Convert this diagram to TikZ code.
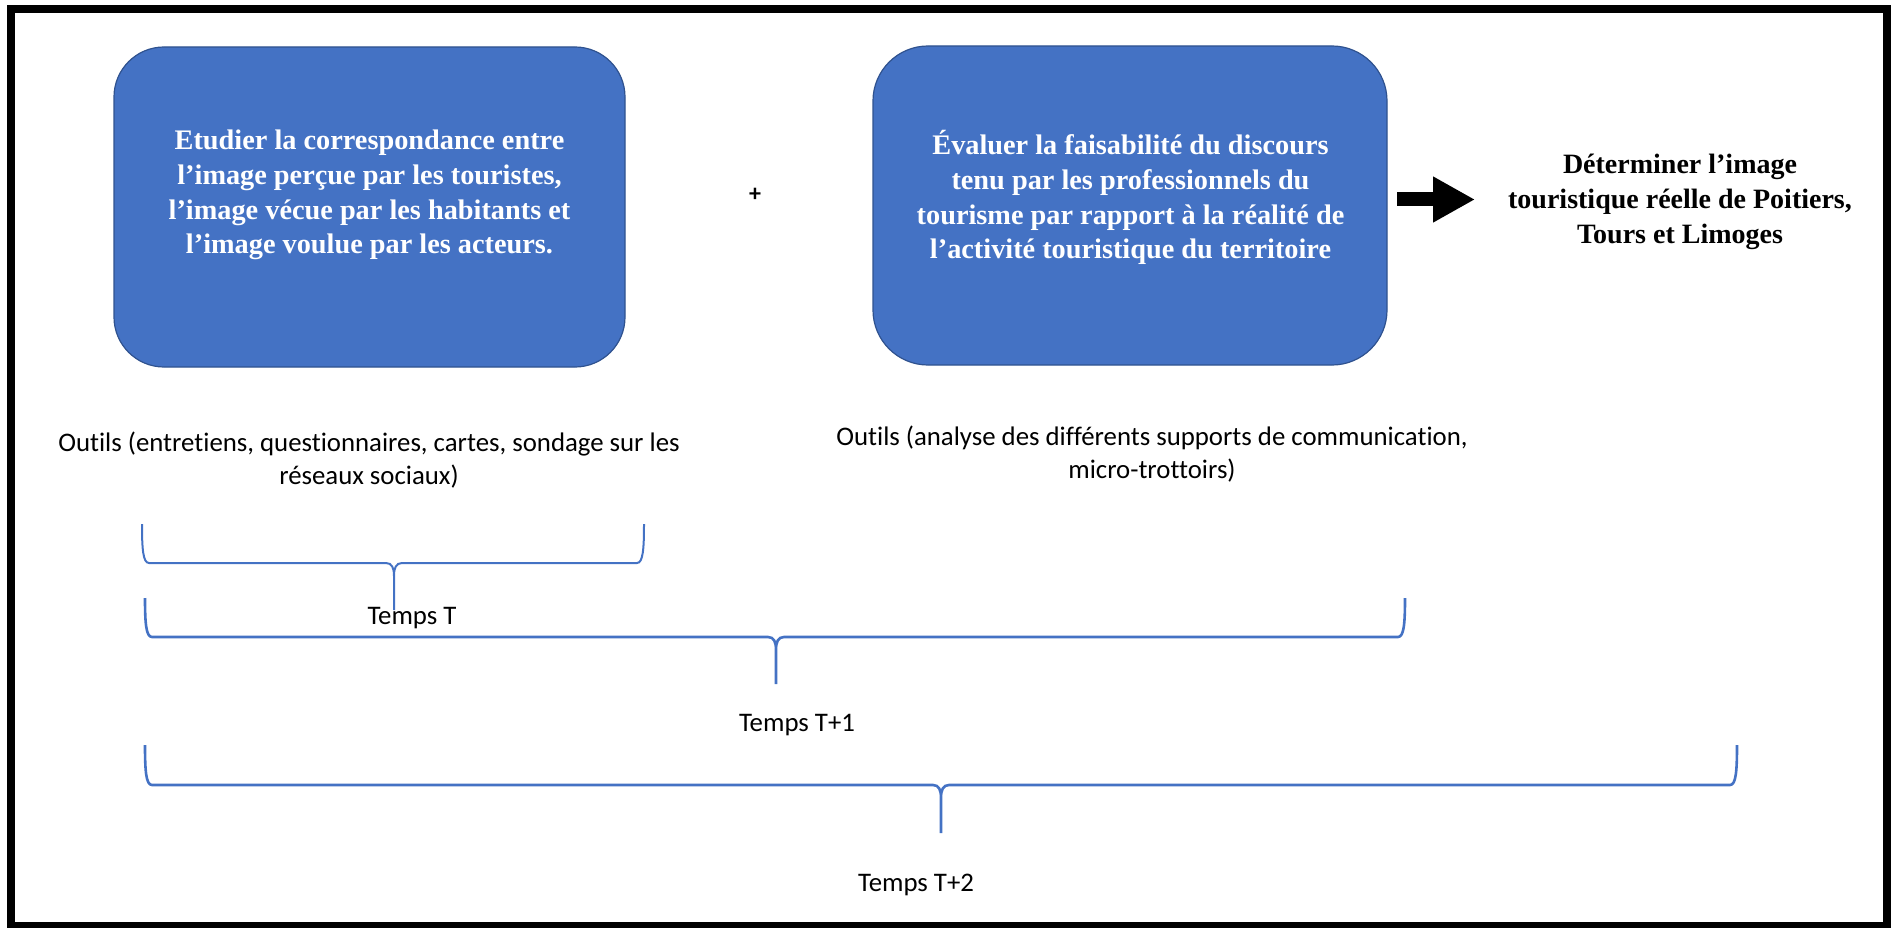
\documentclass[tikz,border=0pt]{standalone}
\usepackage{fontspec}
\setmainfont{Liberation Serif}
\newfontfamily\calib[Ligatures=NoCommon]{Carlito}
\usetikzlibrary{arrows.meta}
\definecolor{obl}{HTML}{4472C4}
\definecolor{obd}{HTML}{2F528F}
\newcommand\mybrace[7]{%
  \draw[#7] (#1,#3) .. controls (#1,#4-14) and (#1+1,#4) .. (#1+7,#4)
    -- (#5-8,#4) .. controls (#5-2,#4) and (#5,#4+5) .. (#5,#4+13) -- (#5,#6)
    (#5,#4+13) .. controls (#5,#4+5) and (#5+2,#4) .. (#5+8,#4)
    -- (#2-7,#4) .. controls (#2-1,#4) and (#2,#4-14) .. (#2,#3);}
\begin{document}
\begin{tikzpicture}[x=1pt,y=-1pt,
  box/.style={draw=obd, line width=1.2pt, fill=obl, inner sep=0pt},
  boxtxt/.style={text=white, font=\bfseries\fontsize{28.3}{34.8}\selectfont, align=center, inner sep=0pt},
  goal/.style={text=black, font=\bfseries\fontsize{28}{35}\selectfont, align=center, inner sep=0pt},
  tool/.style={font=\calib\fontsize{26.8}{33.5}\selectfont, align=center, inner sep=0pt},
  brace/.style={draw=obl, line width=2pt},
  bracethick/.style={draw=obl, line width=2.6pt},
]
\useasboundingbox (0,0) rectangle (1896,928);
\draw[line width=8pt] (11,9) rectangle (1887,926);

\node[box, rounded corners=50pt, minimum width=511pt, minimum height=320pt] (b1) at (369.5,207) {};
\node[boxtxt] (t1) at (369.5,195) {Etudier la correspondance entre\\l’image perçue par les touristes,\\l’image vécue par les habitants et\\l’image voulue par les acteurs.};

\node[box, rounded corners=55pt, minimum width=514pt, minimum height=319pt] (b2) at (1130,205.5) {};
\node[boxtxt] (t2) at (1130.5,197.5) {Évaluer la faisabilité du discours\\tenu par les professionnels du\\tourisme par rapport à la réalité de\\l’activité touristique du territoire};

\node[font=\calib\bfseries\fontsize{24}{28}\selectfont, inner sep=0pt] (plus) at (755,195) {+};

\node[goal] (goal) at (1680,202) {Déterminer l’image\\touristique réelle de Poitiers,\\Tours et Limoges};

\coordinate (as) at (1397,199.5);
\coordinate (ae) at (1475,199.5);
\draw[line width=14pt, -{Triangle[length=42pt,width=43pt]}] (as) -- (ae);

\node[tool] (o1) at (369,460) {Outils (entretiens, questionnaires, cartes, sondage sur les\\réseaux sociaux)};
\node[tool] (o2) at (1152,454) {Outils (analyse des différents supports de communication,\\micro-trottoirs)};

\mybrace{142}{644}{524}{563}{394}{610}{brace}
\mybrace{145}{1405}{598}{637}{776}{684}{bracethick}
\mybrace{145}{1737}{745}{785}{941}{833}{bracethick}

\node[tool] (tT) at (412,618) {Temps T};
\node[tool] (tT1) at (797,725) {Temps T+1};
\node[tool] (tT2) at (916,885) {Temps T+2};
\end{tikzpicture}
\end{document}
